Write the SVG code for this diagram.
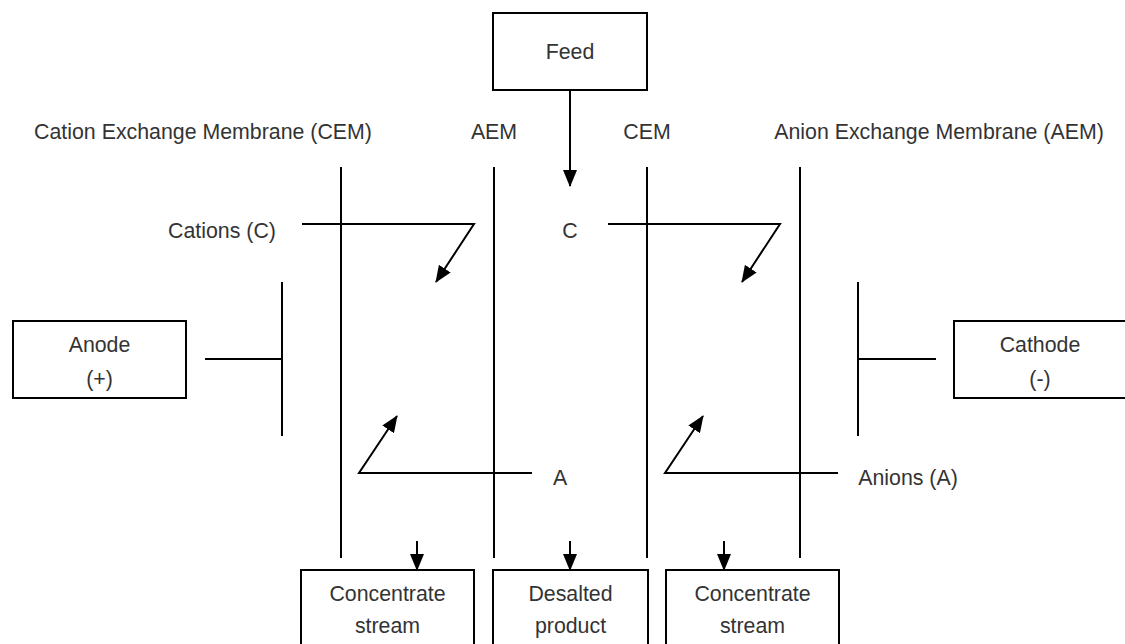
<svg xmlns="http://www.w3.org/2000/svg" width="1125" height="644" viewBox="0 0 1125 644">
<defs>
<style>
.t{font-family:"Liberation Sans",Arial,sans-serif;font-size:21.33px;fill:#333;text-anchor:middle}
.b{fill:#fff;stroke:#000;stroke-width:2}
.l{stroke:#000;stroke-width:2;fill:none}
</style>
<marker id="ah2" viewBox="0 0 17 14" refX="16" refY="7" markerWidth="17" markerHeight="14" markerUnits="userSpaceOnUse" orient="auto">
<path d="M0,0 L17,7 L0,14 z" fill="#000"/>
</marker>
</defs>
<rect width="1125" height="644" fill="#fff"/>
<g id="labels">
<text class="t" x="203" y="139">Cation Exchange Membrane (CEM)</text>
<text class="t" x="494" y="139">AEM</text>
<text class="t" x="647" y="139">CEM</text>
<text class="t" x="939" y="139">Anion Exchange Membrane (AEM)</text>
<text class="t" x="222" y="238">Cations (C)</text>
<text class="t" x="570" y="238">C</text>
<text class="t" x="560" y="485">A</text>
<text class="t" x="908" y="485">Anions (A)</text>
</g>
<g id="membranes">
<line class="l" x1="341" y1="167" x2="341" y2="558"/>
<line class="l" x1="494" y1="167" x2="494" y2="558"/>
<line class="l" x1="647" y1="167" x2="647" y2="558"/>
<line class="l" x1="800" y1="167" x2="800" y2="558"/>
<line class="l" x1="282" y1="282" x2="282" y2="436"/>
<line class="l" x1="858" y1="282" x2="858" y2="436"/>
</g>
<g id="feed">
<rect class="b" x="493" y="13" width="154" height="77"/>
<text class="t" x="570" y="59">Feed</text>
</g>
<g id="anode">
<rect class="b" x="13" y="321" width="173" height="77"/>
<text class="t" x="99.5" y="352">Anode</text>
<text class="t" x="99.5" y="386">(+)</text>
</g>
<g id="cathode">
<rect class="b" x="954" y="321" width="173" height="77"/>
<text class="t" x="1040" y="352">Cathode</text>
<text class="t" x="1040" y="386">(-)</text>
</g>
<g id="concentrate1">
<rect class="b" x="301" y="570" width="173" height="80"/>
<text class="t" x="387.5" y="601">Concentrate</text>
<text class="t" x="387.5" y="633">stream</text>
</g>
<g id="desalted">
<rect class="b" x="493" y="570" width="155" height="80"/>
<text class="t" x="570.5" y="601">Desalted</text>
<text class="t" x="570.5" y="633">product</text>
</g>
<g id="concentrate2">
<rect class="b" x="666" y="570" width="173" height="80"/>
<text class="t" x="752.5" y="601">Concentrate</text>
<text class="t" x="752.5" y="633">stream</text>
</g>
<g id="connectors">
<line class="l" x1="570" y1="90" x2="570" y2="186" marker-end="url(#ah2)"/>
<line class="l" x1="205" y1="359" x2="282" y2="359"/>
<line class="l" x1="858" y1="359" x2="936" y2="359"/>
<polyline class="l" points="302,224 474,224 436,282" marker-end="url(#ah2)"/>
<polyline class="l" points="608,224 780,224 742,282" marker-end="url(#ah2)"/>
<polyline class="l" points="532,473 359,473 397,416" marker-end="url(#ah2)"/>
<polyline class="l" points="838,473 665,473 703,416" marker-end="url(#ah2)"/>
<line class="l" x1="417" y1="541" x2="417" y2="570" marker-end="url(#ah2)"/>
<line class="l" x1="570" y1="541" x2="570" y2="570" marker-end="url(#ah2)"/>
<line class="l" x1="724" y1="541" x2="724" y2="570" marker-end="url(#ah2)"/>
</g>
</svg>
